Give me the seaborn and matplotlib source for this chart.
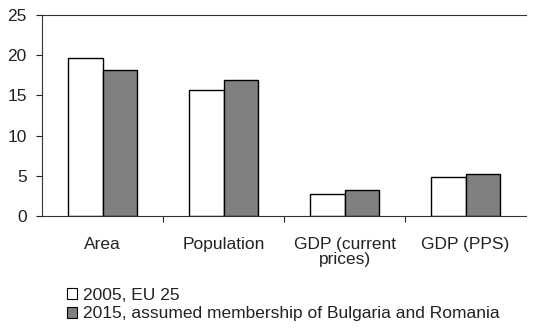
import matplotlib
matplotlib.use("Agg")
import matplotlib.pyplot as plt
import seaborn as sns
import pandas as pd
from matplotlib.patches import Patch

categories = ["Area", "Population", "GDP (current\nprices)", "GDP (PPS)"]
series_names = ["2005, EU 25", "2015, assumed membership of Bulgaria and Romania"]
values_2005 = [19.7, 15.7, 2.7, 4.85]
values_2015 = [18.2, 16.9, 3.2, 5.25]
colors = ["#ffffff", "#808080"]

df = pd.DataFrame({
    "category": categories * 2,
    "series": [series_names[0]] * 4 + [series_names[1]] * 4,
    "value": values_2005 + values_2015,
})

sns.set_style("white")
plt.rcParams["font.family"] = ["Liberation Sans", "DejaVu Sans"]
FS = 12.5

fig = plt.figure(figsize=(5.49, 3.33), dpi=100)
ax = fig.add_axes([42 / 549, 1 - 216 / 333, (526 - 42) / 549, (216 - 15) / 333])

sns.barplot(data=df, x="category", y="value", hue="series", order=categories,
            hue_order=series_names, palette=colors, width=0.57, gap=0,
            edgecolor="black", linewidth=1.0, saturation=1, ax=ax, legend=False)

ax.set_ylim(0, 25)
ax.set_xlim(-0.5, 3.5)
ax.set_yticks([0, 5, 10, 15, 20, 25])
ax.set_xlabel("")
ax.set_ylabel("")
ax.tick_params(axis="y", labelsize=FS, length=4, width=0.8, direction="out", left=True, pad=7,
               colors="#222222")
ax.set_xticks([0, 1, 2, 3])
ax.set_xticklabels(categories, fontsize=FS, color="#222222")
ax.tick_params(axis="x", length=0, pad=15)
ax.set_xticks([0.5, 1.5, 2.5], minor=True)
ax.tick_params(axis="x", which="minor", length=4, width=0.8, direction="out", bottom=True)
for lbl in ax.get_xticklabels():
    lbl.set_linespacing(1.05)

for s in ["left", "bottom", "top"]:
    ax.spines[s].set_visible(True)
    ax.spines[s].set_color("#333333")
    ax.spines[s].set_linewidth(0.8)
ax.spines["right"].set_visible(False)

handles = [Patch(facecolor=c, edgecolor="black", linewidth=0.8) for c in colors]
leg = fig.legend(handles, series_names, loc="upper left", bbox_to_anchor=(67 / 549, 1 - 288 / 333),
                 frameon=False, fontsize=FS, handlelength=0.6, handleheight=0.6,
                 handletextpad=0.3, labelspacing=0.2, borderaxespad=0, borderpad=0)
for t in leg.get_texts():
    t.set_color("#222222")

fig.savefig("out.png", dpi=100)
